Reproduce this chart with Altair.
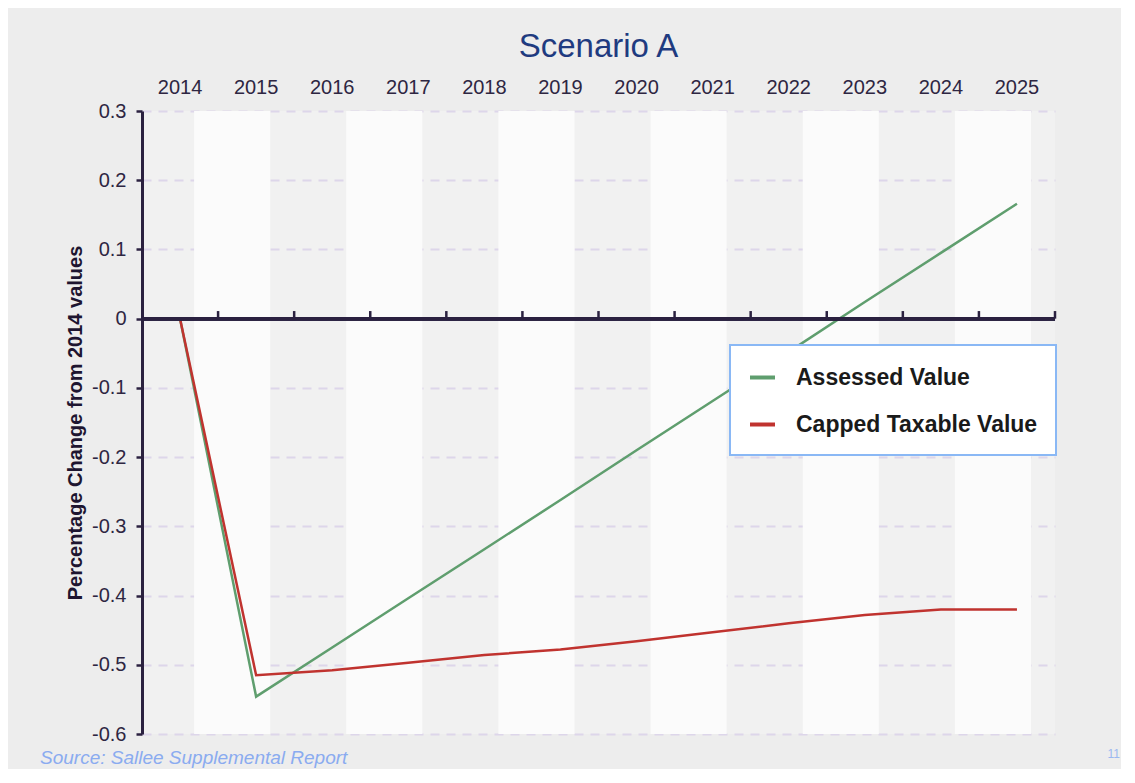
import altair as alt
import pandas as pd

years = ["2014", "2015", "2016", "2017", "2018", "2019", "2020", "2021", "2022", "2023", "2024", "2025"]
assessed = [0.0, -0.546, -0.475, -0.404, -0.333, -0.262, -0.190, -0.119, -0.048, 0.024, 0.095, 0.166]
capped = [0.0, -0.515, -0.508, -0.497, -0.486, -0.478, -0.466, -0.453, -0.440, -0.428, -0.420, -0.420]
series_names = ["Assessed Value", "Capped Taxable Value"]
series_colors = ["#5f9e6e", "#c0332f"]
band_years = ["2015", "2017", "2019", "2021", "2023", "2025"]
y_ticks = [0.3, 0.2, 0.1, 0.0, -0.1, -0.2, -0.3, -0.4, -0.5, -0.6]
title_text = "Scenario A"
y_title = "Percentage Change from 2014 values"
source_text = "Source: Sallee Supplemental Report"
page_number = "11"

rows = []
for y, a, c in zip(years, assessed, capped):
    rows.append({"year": y, "series": series_names[0], "value": a})
    rows.append({"year": y, "series": series_names[1], "value": c})
df = pd.DataFrame(rows)
df_years = pd.DataFrame({"year": years})
df_bands = pd.DataFrame({"year": band_years})

W, H = 913, 623
axis_color = "#2b2140"
label_color = "#2e2642"
font = "Liberation Sans"

xscale = alt.Scale(type="band", domain=years, paddingInner=0, paddingOuter=0)
yscale = alt.Scale(domain=[-0.6, 0.3], nice=False, zero=False)

bands = alt.Chart(df_bands).mark_rect(color="#fbfbfb", xOffset=-24).encode(
    x=alt.X("year:N", scale=xscale, title=None,
            axis=alt.Axis(orient="top", domain=False, ticks=False, grid=False,
                          labelFontSize=20, labelColor=label_color, labelFont=font,
                          labelPadding=14, labelAngle=0)),
    y=alt.datum(0.3, scale=yscale),
    y2=alt.datum(-0.6),
)

grid_axis = alt.Axis(
    values=y_ticks,
    labelExpr="datum.value == 0 ? '0' : replace(format(datum.value, '.1f'), '\u2212', '-')",
    labelFontSize=20, labelColor=label_color, labelFont=font, labelPadding=10,
    tickSize=6, tickColor=axis_color, tickWidth=2.5,
    domainColor=axis_color, domainWidth=3,
    grid=True, gridDash=[9, 7], gridColor="#ddd6ea", gridWidth=2,
    title=y_title, titleFont=font, titleFontSize=20, titleFontWeight="bold",
    titleColor="#1e1530", titlePadding=6,
)

lines = alt.Chart(df).mark_line(strokeWidth=2.5).encode(
    x=alt.X("year:N", scale=xscale, bandPosition=0.5),
    y=alt.Y("value:Q", scale=yscale, axis=grid_axis),
    color=alt.Color("series:N", scale=alt.Scale(domain=series_names, range=series_colors),
                    legend=alt.Legend(orient="none", legendX=588, legendY=234, title=None,
                                      fillColor="white", strokeColor="#8ab8f5", padding=18,
                                      symbolType="stroke", symbolSize=625, symbolStrokeWidth=4,
                                      labelFontSize=23, labelFontWeight="bold", labelFont=font,
                                      labelColor="#1a1a1a", rowPadding=20, labelOffset=19,
                                      labelLimit=400)),
)

zero_line = alt.Chart(df_years).mark_rule(color=axis_color, strokeWidth=3).encode(
    y=alt.datum(0, scale=yscale)
)

zero_ticks = alt.Chart(df_years).mark_rule(color=axis_color, strokeWidth=2.5).encode(
    x=alt.X("year:N", scale=xscale, bandPosition=1),
    y=alt.datum(0, scale=yscale),
    y2=alt.datum(0.011),
)

source = alt.Chart(pd.DataFrame({"t": [source_text]})).mark_text(
    align="left", baseline="middle", fontSize=19, fontStyle="italic", font=font, color="#8aabf0"
).encode(x=alt.value(-102), y=alt.value(647), text="t:N")

page = alt.Chart(pd.DataFrame({"t": [page_number]})).mark_text(
    align="right", baseline="middle", fontSize=12, font=font, color="#9bb8f0"
).encode(x=alt.value(978), y=alt.value(643), text="t:N")

chart = alt.layer(bands, lines, zero_line, zero_ticks, source, page).properties(
    width=W, height=H,
    title=alt.Title(title_text, fontSize=33, color="#1f3b80", font=font, fontWeight="normal",
                    anchor="middle", offset=13),
    autosize=alt.AutoSizeParams(type="none"),
    padding={"left": 134, "top": 103, "right": 66, "bottom": 35},
    background="#ededed",
).configure_view(fill="#f1f1f1", stroke=None).configure_legend(strokeWidth=2)

chart.save("out.html", embed_options={"renderer": "svg", "actions": False})
